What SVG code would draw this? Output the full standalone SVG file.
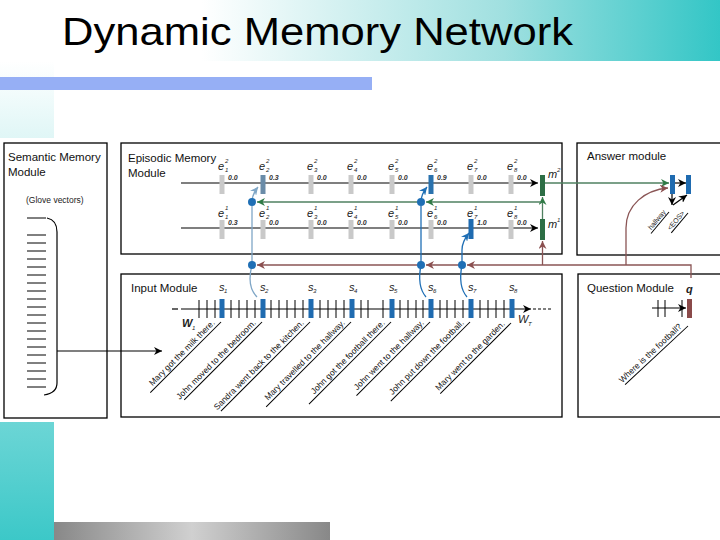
<svg xmlns="http://www.w3.org/2000/svg" width="720" height="540" viewBox="0 0 720 540">
<defs>
<linearGradient id="gTitle" x1="0" y1="0" x2="720" y2="0" gradientUnits="userSpaceOnUse">
<stop offset="0" stop-color="#ffffff"/><stop offset="0.28" stop-color="#ffffff"/><stop offset="0.7" stop-color="#a0e0e0"/><stop offset="1" stop-color="#33c6c6"/>
</linearGradient>
<linearGradient id="gLeft" x1="0" y1="61" x2="0" y2="540" gradientUnits="userSpaceOnUse">
<stop offset="0" stop-color="#ffffff"/><stop offset="1" stop-color="#3cc8c8"/>
</linearGradient>
<linearGradient id="gGray" x1="54" y1="0" x2="330" y2="0" gradientUnits="userSpaceOnUse">
<stop offset="0" stop-color="#888888"/><stop offset="0.5" stop-color="#d0d0d0"/><stop offset="1" stop-color="#888888"/>
</linearGradient>
<marker id="aK" viewBox="0 0 10 10" refX="10" refY="5" markerWidth="8" markerHeight="8" markerUnits="userSpaceOnUse" orient="auto"><path d="M0,0 L10,5 L0,10 L3,5 z" fill="#000"/></marker>
<marker id="aG" viewBox="0 0 10 10" refX="10" refY="5" markerWidth="8" markerHeight="8" markerUnits="userSpaceOnUse" orient="auto"><path d="M0,0 L10,5 L0,10 L3,5 z" fill="#2f7a45"/></marker>
<marker id="aR" viewBox="0 0 10 10" refX="10" refY="5" markerWidth="8" markerHeight="8" markerUnits="userSpaceOnUse" orient="auto"><path d="M0,0 L10,5 L0,10 L3,5 z" fill="#8a4f4f"/></marker>
<marker id="aB" viewBox="0 0 10 10" refX="10" refY="5" markerWidth="8" markerHeight="8" markerUnits="userSpaceOnUse" orient="auto"><path d="M0,0 L10,5 L0,10 L3,5 z" fill="#1f6fb5"/></marker>
<marker id="aL" viewBox="0 0 10 10" refX="10" refY="5" markerWidth="8" markerHeight="8" markerUnits="userSpaceOnUse" orient="auto"><path d="M0,0 L10,5 L0,10 L3,5 z" fill="#7fa6c6"/></marker>
</defs>
<style>
.box{fill:#fff;stroke:#000;stroke-width:1.3}
.ttl{font-family:"Liberation Sans",Arial,sans-serif;font-size:11.5px;fill:#111}
.ln{stroke:#000;stroke-width:1.2;fill:none}
.tk{stroke:#000;stroke-width:1}
.gb{fill:#c9c9c9}
.bb{fill:#1f6bb0}
.lab{font-family:"Liberation Sans",Arial,sans-serif;font-style:italic;font-size:11px;fill:#222}
.sm{font-family:"Liberation Sans",Arial,sans-serif;font-style:italic;font-size:6px;fill:#222}
.val{font-family:"Liberation Sans",Arial,sans-serif;font-style:italic;font-weight:bold;font-size:7px;fill:#333}
.sen{font-family:"Liberation Sans",Arial,sans-serif;font-size:8.5px;fill:#111}
.ul{stroke:#000;stroke-width:1}
.green{stroke:#4f8060;stroke-width:1.3;fill:none}
.brown{stroke:#8a5555;stroke-width:1.3;fill:none}
.blue{stroke:#1f6fb5;stroke-width:1.3;fill:none}
.lblue{stroke:#7fa6c6;stroke-width:1.3;fill:none}
.dot{fill:#1f6fb5}
</style>
<!-- slide background -->
<rect x="0" y="0" width="720" height="540" fill="#fff"/>
<rect x="0" y="0" width="720" height="61" fill="url(#gTitle)"/>
<rect x="0" y="61" width="54" height="479" fill="url(#gLeft)"/>
<rect x="0" y="77" width="372" height="13" fill="#96aff5"/>
<rect x="54" y="522" width="276" height="18" fill="url(#gGray)"/>
<text x="62" y="45" font-family="Liberation Sans,Arial,sans-serif" font-size="39" textLength="511" lengthAdjust="spacingAndGlyphs" fill="#000">Dynamic Memory Network</text>
<rect x="0" y="138" width="720" height="284" fill="#fff"/>

<!-- Semantic memory -->
<g id="semantic">
<rect class="box" x="4" y="143" width="103" height="275"/>
<text class="ttl" x="8" y="161">Semantic Memory</text>
<text class="ttl" x="8" y="176">Module</text>
<text x="26" y="203" font-family="Liberation Sans,Arial,sans-serif" font-size="8.5" fill="#222">(Glove vectors)</text>
<g class="tk">
<line x1="27" y1="218" x2="46" y2="218"/>
<line x1="27" y1="235" x2="46" y2="235"/><line x1="27" y1="243" x2="46" y2="243"/><line x1="27" y1="251" x2="46" y2="251"/><line x1="27" y1="259" x2="46" y2="259"/><line x1="27" y1="267" x2="46" y2="267"/><line x1="27" y1="275" x2="46" y2="275"/><line x1="27" y1="283" x2="46" y2="283"/><line x1="27" y1="291" x2="46" y2="291"/><line x1="27" y1="299" x2="46" y2="299"/><line x1="27" y1="307" x2="46" y2="307"/><line x1="27" y1="315" x2="46" y2="315"/><line x1="27" y1="323" x2="46" y2="323"/><line x1="27" y1="331" x2="46" y2="331"/><line x1="27" y1="339" x2="46" y2="339"/><line x1="27" y1="347" x2="46" y2="347"/><line x1="27" y1="355" x2="46" y2="355"/><line x1="27" y1="363" x2="46" y2="363"/><line x1="27" y1="371" x2="46" y2="371"/><line x1="27" y1="379" x2="46" y2="379"/><line x1="27" y1="387" x2="46" y2="387"/>
</g>
<path class="ln" d="M47,218 Q57,220 57,232 V383 Q57,393 44,395"/>
</g>

<!-- Episodic memory -->
<g id="episodic">
<rect class="box" x="121" y="143" width="441" height="111"/>
<text class="ttl" x="128" y="162">Episodic Memory</text>
<text class="ttl" x="128" y="177">Module</text>
<line class="ln" x1="181" y1="183" x2="538" y2="183" marker-end="url(#aK)"/>
<line class="ln" x1="181" y1="228" x2="538" y2="228" marker-end="url(#aK)"/>
<rect class="gb" x="219.5" y="175" width="5" height="19"/>
<rect x="260.5" y="175" width="5" height="19" fill="#6a8ca8"/>
<rect class="gb" x="308.5" y="175" width="5" height="19"/>
<rect class="gb" x="348.5" y="175" width="5" height="19"/>
<rect class="gb" x="389.5" y="175" width="5" height="19"/>
<rect x="428.5" y="175" width="5" height="19" fill="#2a72ad"/>
<rect class="gb" x="468.5" y="175" width="5" height="19"/>
<rect class="gb" x="508.5" y="175" width="5" height="19"/>
<rect class="gb" x="219.5" y="220" width="5" height="19"/>
<rect class="gb" x="260.5" y="220" width="5" height="19"/>
<rect class="gb" x="308.5" y="220" width="5" height="19"/>
<rect class="gb" x="348.5" y="220" width="5" height="19"/>
<rect class="gb" x="389.5" y="220" width="5" height="19"/>
<rect class="gb" x="428.5" y="220" width="5" height="19"/>
<rect class="bb" x="468.5" y="219" width="5" height="20"/>
<rect class="gb" x="508.5" y="220" width="5" height="19"/>
<g>
<text class="lab" x="218" y="170">e</text><text class="sm" x="225" y="163">2</text><text class="sm" x="225" y="172">1</text><text class="val" x="228" y="180">0.0</text>
<text class="lab" x="259" y="170">e</text><text class="sm" x="266" y="163">2</text><text class="sm" x="266" y="172">2</text><text class="val" x="269" y="180">0.3</text>
<text class="lab" x="307" y="170">e</text><text class="sm" x="314" y="163">2</text><text class="sm" x="314" y="172">3</text><text class="val" x="317" y="180">0.0</text>
<text class="lab" x="347" y="170">e</text><text class="sm" x="354" y="163">2</text><text class="sm" x="354" y="172">4</text><text class="val" x="357" y="180">0.0</text>
<text class="lab" x="388" y="170">e</text><text class="sm" x="395" y="163">2</text><text class="sm" x="395" y="172">5</text><text class="val" x="398" y="180">0.0</text>
<text class="lab" x="427" y="170">e</text><text class="sm" x="434" y="163">2</text><text class="sm" x="434" y="172">6</text><text class="val" x="437" y="180">0.9</text>
<text class="lab" x="467" y="170">e</text><text class="sm" x="474" y="163">2</text><text class="sm" x="474" y="172">7</text><text class="val" x="477" y="180">0.0</text>
<text class="lab" x="507" y="170">e</text><text class="sm" x="514" y="163">2</text><text class="sm" x="514" y="172">8</text><text class="val" x="517" y="180">0.0</text>
</g>
<g>
<text class="lab" x="218" y="217">e</text><text class="sm" x="225" y="210">1</text><text class="sm" x="225" y="219">1</text><text class="val" x="228" y="225">0.3</text>
<text class="lab" x="259" y="217">e</text><text class="sm" x="266" y="210">1</text><text class="sm" x="266" y="219">2</text><text class="val" x="269" y="225">0.0</text>
<text class="lab" x="307" y="217">e</text><text class="sm" x="314" y="210">1</text><text class="sm" x="314" y="219">3</text><text class="val" x="317" y="225">0.0</text>
<text class="lab" x="347" y="217">e</text><text class="sm" x="354" y="210">1</text><text class="sm" x="354" y="219">4</text><text class="val" x="357" y="225">0.0</text>
<text class="lab" x="388" y="217">e</text><text class="sm" x="395" y="210">1</text><text class="sm" x="395" y="219">5</text><text class="val" x="398" y="225">0.0</text>
<text class="lab" x="427" y="217">e</text><text class="sm" x="434" y="210">1</text><text class="sm" x="434" y="219">6</text><text class="val" x="437" y="225">0.0</text>
<text class="lab" x="467" y="217">e</text><text class="sm" x="474" y="210">1</text><text class="sm" x="474" y="219">7</text><text class="val" x="477" y="225">1.0</text>
<text class="lab" x="507" y="217">e</text><text class="sm" x="514" y="210">1</text><text class="sm" x="514" y="219">8</text><text class="val" x="517" y="225">0.0</text>
</g>
<rect x="540" y="175" width="5" height="21" fill="#2d6e45"/>
<rect x="540" y="219" width="5" height="21" fill="#2d6e45"/>
<text class="lab" x="548" y="178">m</text><text class="sm" x="557" y="172">2</text>
<text class="lab" x="548" y="228">m</text><text class="sm" x="557" y="222">1</text>
</g>

<!-- Answer module -->
<g id="answer">
<rect class="box" x="577" y="143" width="145" height="112"/>
<text class="ttl" x="587" y="160">Answer module</text>
<rect class="bb" x="670" y="175" width="5" height="19"/>
<rect class="bb" x="686" y="175" width="5" height="19"/>
<line class="ln" x1="675" y1="183" x2="686" y2="183" marker-end="url(#aK)"/>
<line class="ln" x1="672" y1="194" x2="672" y2="205" marker-end="url(#aK)"/>
<line class="ln" x1="673" y1="205" x2="687" y2="195" marker-end="url(#aK)"/>
<g transform="translate(669,212) rotate(-50)">
<text x="-2" y="-2" text-anchor="end" font-family="Liberation Sans,Arial,sans-serif" font-size="7" fill="#222">hallway</text>
<line class="ul" x1="-28" y1="0" x2="0" y2="0"/>
</g>
<g transform="translate(688,213) rotate(-50)">
<text x="-2" y="-2" text-anchor="end" font-family="Liberation Sans,Arial,sans-serif" font-size="7" fill="#222">&lt;EOS&gt;</text>
<line class="ul" x1="-26" y1="0" x2="0" y2="0"/>
</g>
</g>

<!-- Input module -->
<g id="input">
<rect class="box" x="121" y="274" width="441" height="143"/>
<text class="ttl" x="131" y="292">Input Module</text>
<line class="ln" x1="172" y1="309" x2="178" y2="309"/>
<line class="ln" x1="181" y1="309" x2="531" y2="309" marker-end="url(#aK)"/>
<line class="ln" x1="533" y1="309" x2="551" y2="309" stroke-dasharray="3,2"/>
<g class="tk">
<line x1="199" y1="300" x2="199" y2="318"/><line x1="207" y1="300" x2="207" y2="318"/><line x1="215" y1="300" x2="215" y2="318"/>
<line x1="231" y1="300" x2="231" y2="318"/><line x1="239" y1="300" x2="239" y2="318"/><line x1="247" y1="300" x2="247" y2="318"/><line x1="255" y1="300" x2="255" y2="318"/>
<line x1="271" y1="300" x2="271" y2="318"/><line x1="279" y1="300" x2="279" y2="318"/><line x1="287" y1="300" x2="287" y2="318"/><line x1="295" y1="300" x2="295" y2="318"/><line x1="303" y1="300" x2="303" y2="318"/>
<line x1="320" y1="300" x2="320" y2="318"/><line x1="328" y1="300" x2="328" y2="318"/><line x1="336" y1="300" x2="336" y2="318"/><line x1="344" y1="300" x2="344" y2="318"/>
<line x1="361" y1="300" x2="361" y2="318"/><line x1="368" y1="300" x2="368" y2="318"/><line x1="383" y1="300" x2="383" y2="318"/>
<line x1="400" y1="300" x2="400" y2="318"/><line x1="408" y1="300" x2="408" y2="318"/><line x1="416" y1="300" x2="416" y2="318"/><line x1="423" y1="300" x2="423" y2="318"/>
<line x1="440" y1="300" x2="440" y2="318"/><line x1="447" y1="300" x2="447" y2="318"/><line x1="455" y1="300" x2="455" y2="318"/><line x1="463" y1="300" x2="463" y2="318"/>
<line x1="480" y1="300" x2="480" y2="318"/><line x1="488" y1="300" x2="488" y2="318"/><line x1="496" y1="300" x2="496" y2="318"/><line x1="504" y1="300" x2="504" y2="318"/>
</g>
<rect class="bb" x="219.5" y="299" width="5" height="19"/>
<rect class="bb" x="260.5" y="299" width="5" height="19"/>
<rect class="bb" x="308.5" y="299" width="5" height="19"/>
<rect class="bb" x="349.5" y="299" width="5" height="19"/>
<rect class="bb" x="389.5" y="299" width="5" height="19"/>
<rect class="bb" x="428.5" y="299" width="5" height="19"/>
<rect class="bb" x="468.5" y="299" width="5" height="19"/>
<rect class="bb" x="509.5" y="299" width="5" height="19"/>
<g>
<text class="lab" font-size="9" x="219" y="291">s</text><text class="sm" x="224" y="293">1</text>
<text class="lab" font-size="9" x="260" y="291">s</text><text class="sm" x="265" y="293">2</text>
<text class="lab" font-size="9" x="308" y="291">s</text><text class="sm" x="313" y="293">3</text>
<text class="lab" font-size="9" x="349" y="291">s</text><text class="sm" x="354" y="293">4</text>
<text class="lab" font-size="9" x="389" y="291">s</text><text class="sm" x="394" y="293">5</text>
<text class="lab" font-size="9" x="428" y="291">s</text><text class="sm" x="433" y="293">6</text>
<text class="lab" font-size="9" x="468" y="291">s</text><text class="sm" x="473" y="293">7</text>
<text class="lab" font-size="9" x="509" y="291">s</text><text class="sm" x="514" y="293">8</text>
</g>
<text class="lab" font-size="8" font-weight="bold" x="182" y="327">W</text><text class="sm" x="192" y="330">1</text>
<text class="lab" font-size="8" x="518" y="323">W</text><text class="sm" x="528" y="326">T</text>
<g transform="translate(221,322) rotate(-45)"><text class="sen" x="-5" y="-3" text-anchor="end">Mary got the milk there.</text><line class="ul" x1="-100" y1="0" x2="0" y2="0"/></g>
<g transform="translate(262,322) rotate(-45)"><text class="sen" x="-5" y="-3" text-anchor="end">John moved to the bedroom.</text><line class="ul" x1="-110" y1="0" x2="0" y2="0"/></g>
<g transform="translate(310,322) rotate(-45)"><text class="sen" x="-5" y="-3" text-anchor="end">Sandra went back to the kitchen.</text><line class="ul" x1="-126" y1="0" x2="0" y2="0"/></g>
<g transform="translate(351,322) rotate(-45)"><text class="sen" x="-5" y="-3" text-anchor="end">Mary travelled to the hallway.</text><line class="ul" x1="-120" y1="0" x2="0" y2="0"/></g>
<g transform="translate(391,322) rotate(-45)"><text class="sen" x="-5" y="-3" text-anchor="end">John got the football there.</text><line class="ul" x1="-116" y1="0" x2="0" y2="0"/></g>
<g transform="translate(430,322) rotate(-45)"><text class="sen" x="-5" y="-3" text-anchor="end">John went to the hallway.</text><line class="ul" x1="-104" y1="0" x2="0" y2="0"/></g>
<g transform="translate(470,322) rotate(-45)"><text class="sen" x="-5" y="-3" text-anchor="end">John put down the football.</text><line class="ul" x1="-112" y1="0" x2="0" y2="0"/></g>
<g transform="translate(511,323) rotate(-45)"><text class="sen" x="-5" y="-3" text-anchor="end">Mary went to the garden.</text><line class="ul" x1="-100" y1="0" x2="0" y2="0"/></g>
</g>

<!-- Question module -->
<g id="question">
<rect class="box" x="578" y="274" width="144" height="143"/>
<text class="ttl" x="587" y="292">Question Module</text>
<text class="lab" font-weight="bold" x="686" y="293">q</text>
<line class="ln" x1="652" y1="308" x2="686" y2="308" marker-end="url(#aK)"/>
<g class="tk"><line x1="658" y1="300" x2="658" y2="317"/><line x1="665" y1="300" x2="665" y2="317"/><line x1="682" y1="300" x2="682" y2="317"/></g>
<rect x="687" y="299" width="5" height="19" fill="#8a4a4a"/>
<g transform="translate(688,326) rotate(-43)"><text class="sen" x="-5" y="-3" text-anchor="end">Where is the football?</text><line class="ul" x1="-86" y1="0" x2="0" y2="0"/></g>
</g>

<!-- connectors -->
<g id="connectors">
<line class="ln" x1="57" y1="351" x2="162" y2="351" marker-end="url(#aK)"/>
<line class="green" x1="542.5" y1="219" x2="542.5" y2="197" marker-end="url(#aG)"/>
<line class="green" x1="545" y1="183" x2="669" y2="183" marker-end="url(#aG)"/>
<line class="green" x1="541" y1="202" x2="426" y2="202" marker-end="url(#aG)"/>
<line class="green" x1="421" y1="202" x2="257" y2="202" marker-end="url(#aG)"/>
<path class="brown" d="M691,278 V265 H467" marker-end="url(#aR)"/>
<line class="brown" x1="462" y1="265" x2="426" y2="265" marker-end="url(#aR)"/>
<line class="brown" x1="421" y1="265" x2="257" y2="265" marker-end="url(#aR)"/>
<line class="brown" x1="542.5" y1="265" x2="542.5" y2="241" marker-end="url(#aR)"/>
<path class="brown" d="M626,265 V228 C626,205 645,190 668,188" marker-end="url(#aR)"/>
<line class="lblue" x1="252" y1="265" x2="252" y2="206"/>
<path class="lblue" d="M252,202 C252,196 254,192 258,187" marker-end="url(#aL)"/>
<path class="lblue" d="M252,265 C248,280 250,290 257,297"/>
<line class="blue" x1="421" y1="265" x2="421" y2="206"/>
<path class="blue" d="M421,202 C421,196 423,192 427,187" marker-end="url(#aB)"/>
<path class="blue" d="M421,265 C418,280 420,290 426,297"/>
<path class="blue" d="M462,265 V250 C462,243 465,238 469,233" marker-end="url(#aB)"/>
<path class="blue" d="M462,265 C459,280 461,290 467,297"/>
<circle class="dot" cx="252" cy="202" r="4"/>
<circle class="dot" cx="421" cy="202" r="4"/>
<circle class="dot" cx="252" cy="265" r="4"/>
<circle class="dot" cx="421" cy="265" r="4"/>
<circle class="dot" cx="462" cy="265" r="4"/>
</g>
</svg>
